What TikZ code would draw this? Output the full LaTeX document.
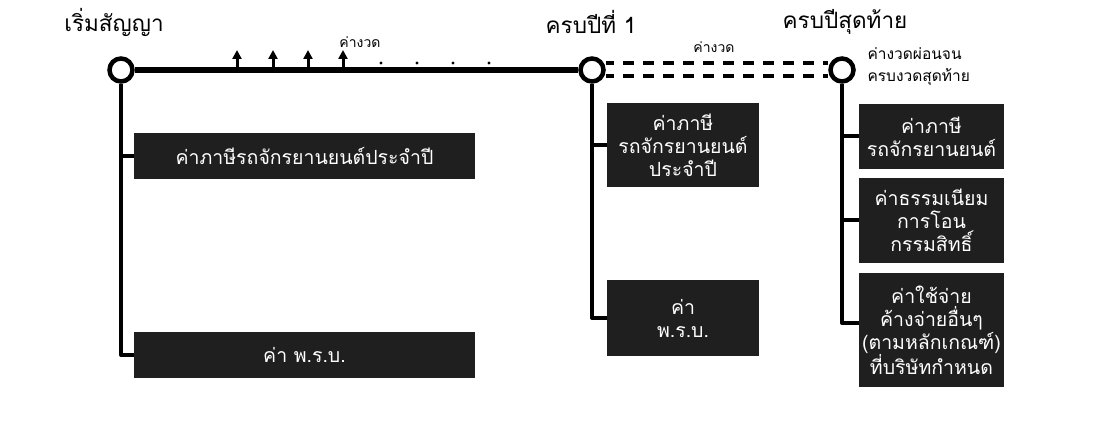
\documentclass[tikz,border=0pt]{standalone}
\usepackage{fontspec}
\setmainfont[Script=Thai]{Loma}
\usetikzlibrary{positioning,arrows.meta}

\tikzset{
	stop/.style={circle, draw, line width=4.5pt, minimum size=23pt, inner sep=0pt},
	box/.style={fill=black!88, text=white, inner sep=0pt, align=center,
		font=\fontsize{19.5}{23}\selectfont},
	branch/.style={line width=4pt, line join=round},
	title/.style={font=\fontsize{22.5}{26}\selectfont},
	small/.style={font=\fontsize{14}{22}\selectfont, align=left},
}

\begin{document}
\begin{tikzpicture}[x=1pt,y=-1pt]
	\useasboundingbox (0,0) rectangle (1117,438);

	% punkty osi
	\node[stop] (c1) at (121,70) {};
	\node[stop] (c2) at (592,70) {};
	\node[stop] (c3) at (842,70) {};

	\node[title] (t1) at (114,22) {เริ่มสัญญา};
	\node[title] (t2) at (591,22) {ครบปีที่ 1};
	\node[title] (t3) at (845,22) {ครบปีสุดท้าย};

	\draw[line width=6pt] (c1) -- (c2);
	\draw[line width=4pt][dash pattern=on 11pt off 9pt, dash phase=3pt]
		([yshift=6.5pt]c2.east) -- ([yshift=6.5pt]c3.west);
	\draw[line width=4pt][dash pattern=on 11pt off 9pt, dash phase=3pt]
		([yshift=-6.5pt]c2.east) -- ([yshift=-6.5pt]c3.west);

	\foreach \x in {237,273,308,343} {
		\draw[line width=3pt][-{Triangle[width=9pt,length=9pt]}] (\x,70) -- (\x,50);
	}
	\foreach \x in {381,417,453,489} {
		\fill (\x,63) circle(1.6);
	}

	\node[small] (g1) at (360,42) {ค่างวด};
	\node[small] (g2) at (714,47) {ค่างวด};
	\node[small, anchor=west, font=\fontsize{15.5}{22}\selectfont] (g3) at (864,67) {ค่างวดผ่อนจน\\ครบงวดสุดท้าย};

	% koniec osi

	\node[box, minimum width=341pt, minimum height=46pt] (b1) at (304.5,156) {ค่าภาษีรถจักรยานยนต์ประจำปี};
	\node[box, minimum width=341pt, minimum height=46pt] (b2) at (304.5,355) {ค่า พ.ร.บ.};

	\node[box, minimum width=152pt, minimum height=84pt] (b3) at (683,145) {ค่าภาษี\\รถจักรยานยนต์\\ประจำปี};
	\node[box, minimum width=152pt, minimum height=76pt] (b4) at (683,318) {ค่า\\พ.ร.บ.};

	\node[box, minimum width=145pt, minimum height=65pt] (b5) at (931.5,136.5) {ค่าภาษี\\รถจักรยานยนต์};
	\node[box, minimum width=145pt, minimum height=85pt] (b6) at (931.5,220.5) {ค่าธรรมเนียม\\การโอน\\กรรมสิทธิ์};
	\node[box, minimum width=145pt, minimum height=114pt] (b7) at (931.5,330) {ค่าใช้จ่าย\\ค้างจ่ายอื่นๆ\\(ตามหลักเกณฑ์)\\ที่บริษัทกำหนด};

	\draw[branch] (c1) |- (b1);
	\draw[branch] (c1) |- (b2);
	\draw[branch] (c2) |- (b3);
	\draw[branch] (c2) |- (b4);
	\draw[branch] (c3) |- (b5);
	\draw[branch] (c3) |- (b6);
	\draw[branch] (c3) |- ([yshift=7pt]b7.west);
\end{tikzpicture}
\end{document}
